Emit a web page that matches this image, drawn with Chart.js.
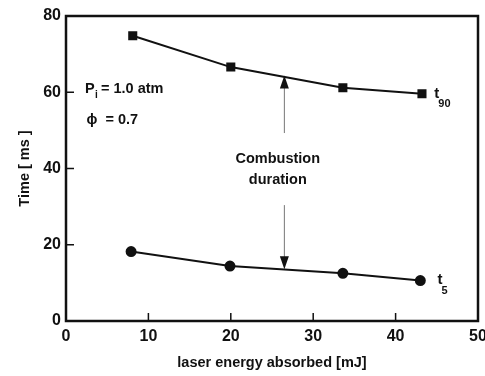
<!DOCTYPE html>
<html><head><meta charset="utf-8">
<script src="https://cdn.jsdelivr.net/npm/chart.js@4.4.0/dist/chart.umd.min.js"></script>
<style>html,body{margin:0;padding:0;background:#fff}#wrap{width:485px;height:376px}</style>
</head><body><div id="wrap"><canvas id="c" width="485" height="376"></canvas></div>
<script>
// Data
const energy90 = [8.1, 20.0, 33.6, 43.2];
const t90 = [74.8, 66.6, 61.2, 59.6];
const energy5 = [7.9, 19.9, 33.6, 43.0];
const t5 = [18.2, 14.4, 12.5, 10.6];
const xTicks = [0, 10, 20, 30, 40, 50];
const yTicks = [0, 20, 40, 60, 80];

const FONT = '"Liberation Sans", Arial, sans-serif';

const decor = {
  id: 'decor',
  afterDraw(chart) {
    const {ctx, chartArea: a, scales: {x, y}} = chart;
    ctx.save();
    // frame
    ctx.strokeStyle = '#111';
    ctx.lineWidth = 2.5;
    ctx.strokeRect(a.left, a.top, a.right - a.left, a.bottom - a.top);
    // inward ticks
    ctx.lineWidth = 1.5;
    ctx.beginPath();
    xTicks.slice(1, -1).forEach(v => {
      const px = x.getPixelForValue(v);
      ctx.moveTo(px, a.bottom); ctx.lineTo(px, a.bottom - 8);
    });
    yTicks.slice(1, -1).forEach(v => {
      const py = y.getPixelForValue(v);
      ctx.moveTo(a.left, py); ctx.lineTo(a.left + 8, py);
    });
    ctx.stroke();

    // arrows
    const ax = x.getPixelForValue(26.5);
    ctx.strokeStyle = '#777';
    ctx.lineWidth = 1;
    ctx.beginPath();
    ctx.moveTo(ax, y.getPixelForValue(49.3)); ctx.lineTo(ax, y.getPixelForValue(62));
    ctx.moveTo(ax, y.getPixelForValue(30.4)); ctx.lineTo(ax, y.getPixelForValue(16));
    ctx.stroke();
    ctx.fillStyle = '#111';
    const upTip = y.getPixelForValue(64.4);
    ctx.beginPath();
    ctx.moveTo(ax, upTip); ctx.lineTo(ax - 4.5, upTip + 13); ctx.lineTo(ax + 4.5, upTip + 13); ctx.closePath(); ctx.fill();
    const dnTip = y.getPixelForValue(13.6);
    ctx.beginPath();
    ctx.moveTo(ax, dnTip); ctx.lineTo(ax - 4.5, dnTip - 13); ctx.lineTo(ax + 4.5, dnTip - 13); ctx.closePath(); ctx.fill();

    // texts
    ctx.fillStyle = '#111';
    ctx.textBaseline = 'middle';
    ctx.font = 'bold 14.5px ' + FONT;
    ctx.textAlign = 'center';
    const cx = x.getPixelForValue(25.7);
    ctx.fillText('Combustion', cx, y.getPixelForValue(42.5));
    ctx.fillText('duration', cx, y.getPixelForValue(37.0));

    ctx.textAlign = 'left';
    let px = x.getPixelForValue(2.3), py = y.getPixelForValue(60.8);
    ctx.fillText('P', px, py);
    ctx.font = 'bold 10px ' + FONT;
    ctx.fillText('i', px + 10, py + 6);
    ctx.font = 'bold 14.5px ' + FONT;
    ctx.fillText('= 1.0 atm', px + 16, py);
    ctx.fillText('\u03D5  = 0.7', x.getPixelForValue(2.5), y.getPixelForValue(52.7));

    px = x.getPixelForValue(44.7); py = y.getPixelForValue(59.5);
    ctx.font = 'bold 15px ' + FONT;
    ctx.fillText('t', px, py);
    ctx.font = 'bold 11px ' + FONT;
    ctx.fillText('90', px + 4, py + 10);
    px = x.getPixelForValue(45.1); py = y.getPixelForValue(10.7);
    ctx.font = 'bold 15px ' + FONT;
    ctx.fillText('t', px, py);
    ctx.font = 'bold 11px ' + FONT;
    ctx.fillText('5', px + 4, py + 11);
    ctx.restore();
  }
};

new Chart(document.getElementById('c'), {
  type: 'line',
  data: {
    datasets: [
      {label: 't90', data: energy90.map((e, i) => ({x: e, y: t90[i]})),
       borderColor: '#111', backgroundColor: '#111', borderWidth: 2,
       pointStyle: 'rect', pointRadius: 5, tension: 0},
      {label: 't5', data: energy5.map((e, i) => ({x: e, y: t5[i]})),
       borderColor: '#111', backgroundColor: '#111', borderWidth: 2,
       pointStyle: 'circle', pointRadius: 4.5, tension: 0}
    ]
  },
  plugins: [decor],
  options: {
    responsive: false, animation: false,
    layout: {padding: {top: 16, right: 7, left: 0, bottom: 0}},
    plugins: {legend: {display: false}, tooltip: {enabled: false}},
    scales: {
      x: {type: 'linear', min: 0, max: 50,
          afterBuildTicks: s => { s.ticks = xTicks.map(v => ({value: v})); },
          afterFit: s => { s.height = 55; s.paddingRight = 0; s.paddingLeft = 0; },
          grid: {display: false, drawTicks: false}, border: {display: false},
          ticks: {padding: 6, color: '#111', font: {family: FONT, size: 16, weight: 'bold'}},
          title: {display: true, text: 'laser energy absorbed [mJ]', color: '#111',
                  font: {family: FONT, size: 14.5, weight: 'bold'}, padding: {top: 3, bottom: 4}}},
      y: {type: 'linear', min: 0, max: 80,
          afterBuildTicks: s => { s.ticks = yTicks.map(v => ({value: v})); },
          afterFit: s => { s.width = 66; s.paddingTop = 0; s.paddingBottom = 0; },
          grid: {display: false, drawTicks: false}, border: {display: false},
          ticks: {padding: 5, color: '#111', font: {family: FONT, size: 16, weight: 'bold'}},
          title: {display: true, text: 'Time [ ms ]', color: '#111',
                  font: {family: FONT, size: 14.5, weight: 'bold'}, padding: {top: 16, bottom: 6}}}
    }
  }
});
</script></body></html>
